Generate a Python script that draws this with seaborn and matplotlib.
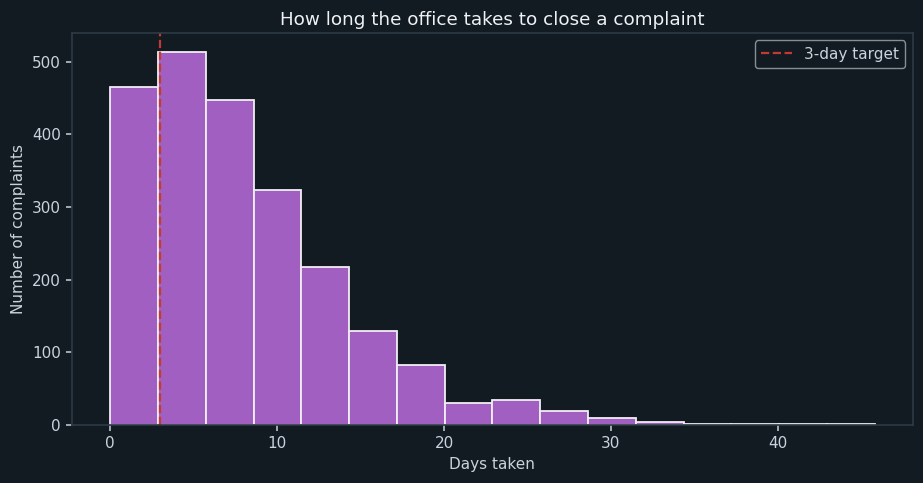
import matplotlib
matplotlib.use('Agg')
import matplotlib.pyplot as plt
import seaborn as sns
import numpy as np
import pandas as pd

# counts per bin (16 equal bins from 0 to ~45.8 days)
bin_edges = [round(x, 4) for x in np.linspace(0, 45.8, 17)]
bin_counts = [465, 514, 447, 324, 217, 129, 82, 31, 34, 19, 9, 4, 2, 2, 1, 2]
target_days = 3

bg = '#121a22'
text_col = '#c9d3dc'
spine_col = '#2c3a45'

sns.set_theme(style='dark')
plt.rcParams.update({
    'figure.facecolor': bg,
    'axes.facecolor': bg,
    'axes.edgecolor': spine_col,
    'axes.labelcolor': text_col,
    'xtick.color': text_col,
    'ytick.color': text_col,
    'text.color': text_col,
    'axes.grid': False,
})
plt.rcParams['font.family'] = ['DejaVu Sans']

df = pd.DataFrame({
    'days': [(a + b) / 2 for a, b in zip(bin_edges[:-1], bin_edges[1:])],
    'count': bin_counts,
})

fig, ax = plt.subplots(figsize=(9.23, 4.83), dpi=100)
sns.histplot(data=df, x='days', weights='count', bins=bin_edges, ax=ax,
             color='#a15fc1', alpha=1.0, edgecolor='#f0eef2', linewidth=1.3)
ax.axvline(target_days, color='#c43a2e', linestyle='--', linewidth=1.6, label='3-day target')

ax.set_title('How long the office takes to close a complaint', color='#eef2f5', fontsize=13.2)
ax.set_xlabel('Days taken', fontsize=11)
ax.set_ylabel('Number of complaints', fontsize=11)
ax.set_xticks([0, 10, 20, 30, 40])
ax.tick_params(axis='both', length=4.4, width=1.1, colors=text_col, labelsize=11, bottom=True, left=True)
for s in ax.spines.values():
    s.set_color(spine_col)

leg = ax.legend(loc='upper right', facecolor=bg, edgecolor='#a3abb3', fontsize=11)
for t in leg.get_texts():
    t.set_color(text_col)

fig.subplots_adjust(left=0.078, right=0.989, top=0.932, bottom=0.12)
fig.savefig('out.png', dpi=100, facecolor=bg)
